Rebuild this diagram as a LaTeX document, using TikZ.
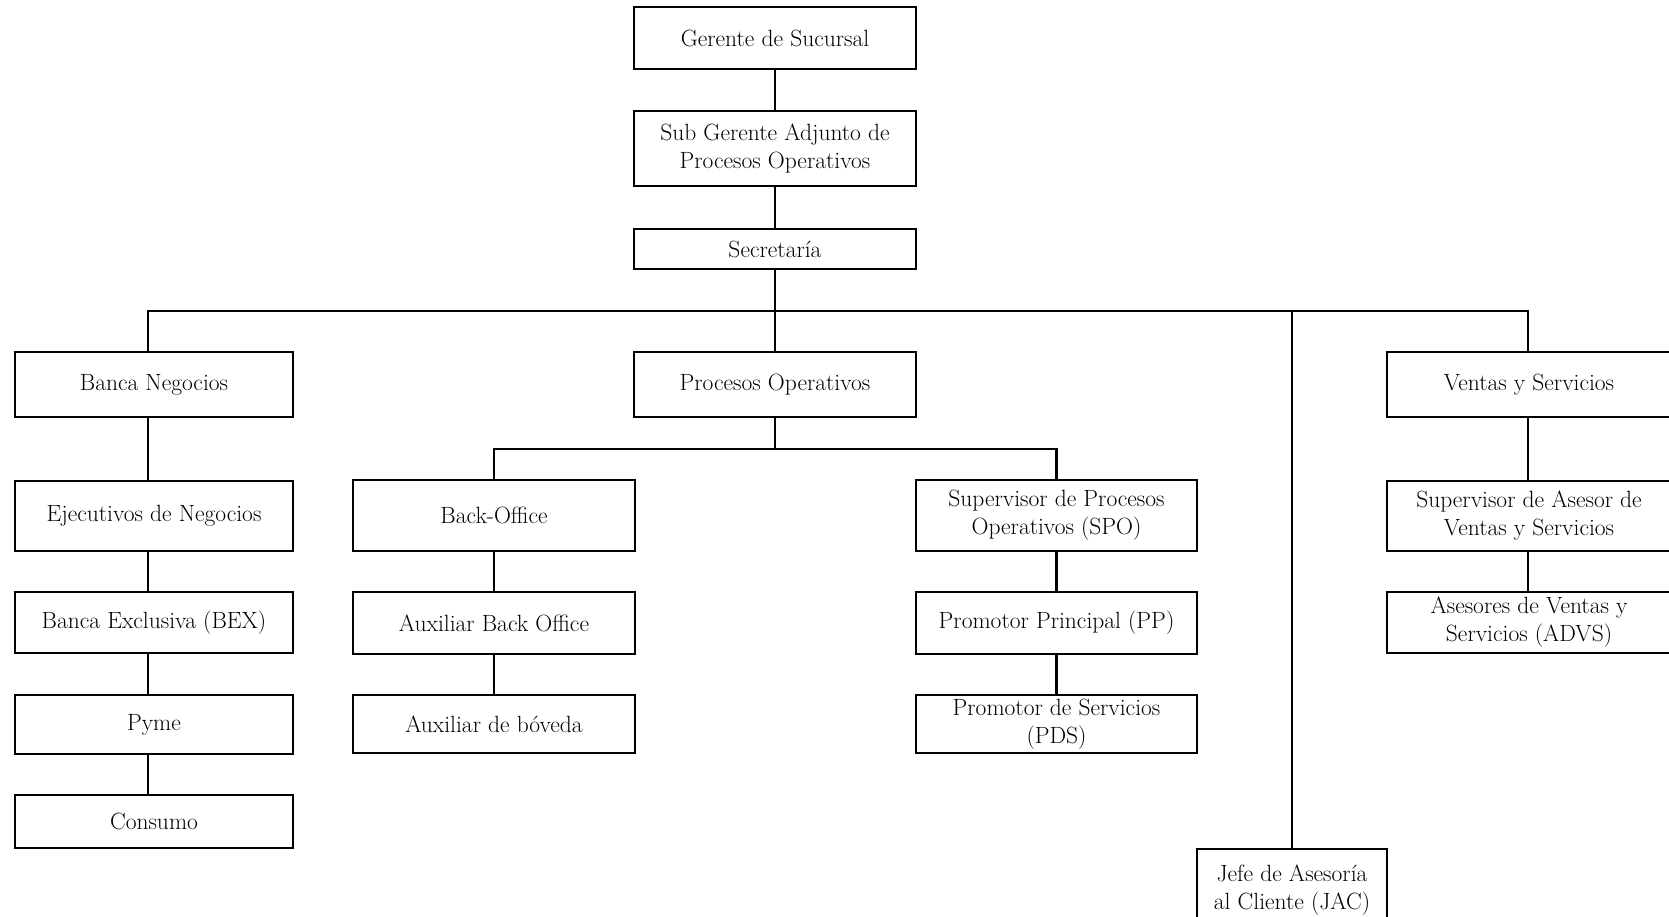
\documentclass[tikz,border=0pt]{standalone}
\usepackage{fontspec}
\begin{document}
\begin{tikzpicture}[x=1pt,y=-1pt,
  orgbox/.style={draw, line width=2.2pt, inner sep=0pt, align=center,
    font=\fontsize{23.5}{28}\selectfont},
  conn/.style={line width=2.2pt, line join=miter}]
\useasboundingbox (0,0) rectangle (1669,917);
% top chain
\node[orgbox, minimum width=282pt, minimum height=62pt] (ger) at (775,38) {Gerente de Sucursal};
\node[orgbox, minimum width=282pt, minimum height=75pt] (sub) at (775,148.5) {Sub Gerente Adjunto de\\Procesos Operativos};
\node[orgbox, minimum width=282pt, minimum height=40pt] (sec) at (775,249) {Secretaría};
% left column
\node[orgbox, minimum width=278pt, minimum height=65pt] (banca) at (154,384.5) {Banca Negocios};
\node[orgbox, minimum width=278pt, minimum height=70pt] (ejec) at (154,516) {Ejecutivos de Negocios};
\node[orgbox, minimum width=278pt, minimum height=61pt] (bex) at (154,622.5) {Banca Exclusiva (BEX)};
\node[orgbox, minimum width=278pt, minimum height=59pt] (pyme) at (154,724.5) {Pyme};
\node[orgbox, minimum width=278pt, minimum height=53pt] (cons) at (154,821.5) {Consumo};
% middle
\node[orgbox, minimum width=282pt, minimum height=65pt] (proc) at (775,384.5) {Procesos Operativos};
\node[orgbox, minimum width=282pt, minimum height=71pt] (back) at (494,515.5) {Back-Office};
\node[orgbox, minimum width=282pt, minimum height=62pt] (aux) at (494,623) {Auxiliar Back Office};
\node[orgbox, minimum width=282pt, minimum height=58pt] (bov) at (494,724) {Auxiliar de bóveda};
\node[orgbox, minimum width=281pt, minimum height=71pt] (spo) at (1056.5,515.5) {Supervisor de Procesos\\Operativos (SPO)};
\node[orgbox, minimum width=281pt, minimum height=62pt] (pp) at (1056.5,623) {Promotor Principal (PP)};
\node[orgbox, minimum width=281pt, minimum height=58pt] (pds) at (1056.5,724) {Promotor de Servicios\\(PDS)};
% JAC
\node[orgbox, minimum width=190pt, minimum height=82pt] (jac) at (1292,890) {Jefe de Asesoría\\al Cliente (JAC)};
% right column
\node[orgbox, minimum width=284pt, minimum height=65pt] (ventas) at (1529,384.5) {Ventas y Servicios};
\node[orgbox, minimum width=284pt, minimum height=70pt] (supa) at (1529,516) {Supervisor de Asesor de\\Ventas y Servicios};
\node[orgbox, minimum width=284pt, minimum height=61pt] (ases) at (1529,622.5) {Asesores de Ventas y\\Servicios (ADVS)};
% buses
\coordinate (busL) at (148,311);
\coordinate (busR) at (1528,311);
\draw[conn] (ger) -- (sub);
\draw[conn] (sub) -- (sec);
\draw[conn] (sec) -- (proc);
\draw[conn] (busL |- banca.north) -- (busL) -- (busR) -- (busR |- ventas.north);
\draw[conn] (jac.north) -- (jac.north |- busL);
\draw[conn] (banca.south -| busL) -- (ejec.north -| busL);
\draw[conn] (ejec.south -| busL) -- (bex.north -| busL);
\draw[conn] (bex.south -| busL) -- (pyme.north -| busL);
\draw[conn] (pyme.south -| busL) -- (cons.north -| busL);
\coordinate (sbus) at (775,449);
\draw[conn] (proc.south) -- (sbus);
\draw[conn] (back.north) -- (back.north |- sbus) -- (spo.north |- sbus) -- (spo.north);
\draw[conn] (back) -- (aux);
\draw[conn] (aux) -- (bov);
\draw[conn] (spo) -- (pp);
\draw[conn] (pp) -- (pds);
\draw[conn] (ventas.south -| busR) -- (supa.north -| busR);
\draw[conn] (supa.south -| busR) -- (ases.north -| busR);
\end{tikzpicture}
\end{document}
